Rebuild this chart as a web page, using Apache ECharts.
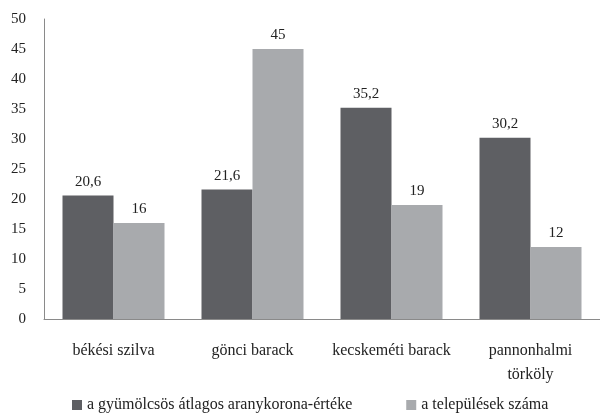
<!DOCTYPE html>
<html>
<head>
<meta charset="utf-8">
<script src="https://cdn.jsdelivr.net/npm/echarts@6/dist/echarts.min.js"></script>
<style>
  html, body { margin: 0; padding: 0; background: #fff; }
  #main { width: 600px; height: 413px; }
</style>
</head>
<body>
<div id="main"></div>
<script>
const categories = ['békési szilva', 'gönci barack', 'kecskeméti barack', 'pannonhalmi\ntörköly'];
const series_names = ['a gyümölcsös átlagos aranykorona-értéke', 'a települések száma'];
const korona_values = [20.6, 21.6, 35.2, 30.2];
const telepules_values = [16, 45, 19, 12];

const font = 'Liberation Serif';
function fmt(p) {
    return String(p.value).replace('.', ',');
}

const option = {
    animation: false,
    backgroundColor: '#fff',
    textStyle: { fontFamily: font },
    grid: { left: 44, top: 19, width: 563, height: 300, containLabel: false },
    legend: {
        left: 72,
        top: 397,
        padding: 0,
        itemWidth: 10,
        itemHeight: 10,
        itemGap: 54,
        icon: 'rect',
        textStyle: { fontFamily: font, fontSize: 16, color: '#222' },
        data: series_names
    },
    xAxis: {
        type: 'category',
        data: categories,
        axisLine: { lineStyle: { color: '#8a8a8a', width: 1 } },
        axisTick: { show: false },
        axisLabel: {
            fontFamily: font, fontSize: 16, color: '#222',
            margin: 20, lineHeight: 24, interval: 0
        }
    },
    yAxis: {
        type: 'value',
        min: 0, max: 50, interval: 5,
        axisLine: { show: true, lineStyle: { color: '#8a8a8a', width: 1 } },
        axisTick: { show: false },
        splitLine: { show: false },
        axisLabel: { fontFamily: font, fontSize: 15, color: '#222', margin: 18 }
    },
    series: [
        {
            name: series_names[0],
            type: 'bar',
            data: korona_values,
            barWidth: 51,
            barGap: '0%',
            itemStyle: { color: '#5e5f63' },
            label: { show: true, position: 'top', distance: 6, formatter: fmt,
                     fontFamily: font, fontSize: 15, color: '#222' }
        },
        {
            name: series_names[1],
            type: 'bar',
            data: telepules_values,
            barWidth: 51,
            barGap: '0%',
            itemStyle: { color: '#a8aaad' },
            label: { show: true, position: 'top', distance: 6, formatter: fmt,
                     fontFamily: font, fontSize: 15, color: '#222' }
        }
    ]
};

const chart = echarts.init(document.getElementById('main'));
chart.setOption(option);
</script>
</body>
</html>
